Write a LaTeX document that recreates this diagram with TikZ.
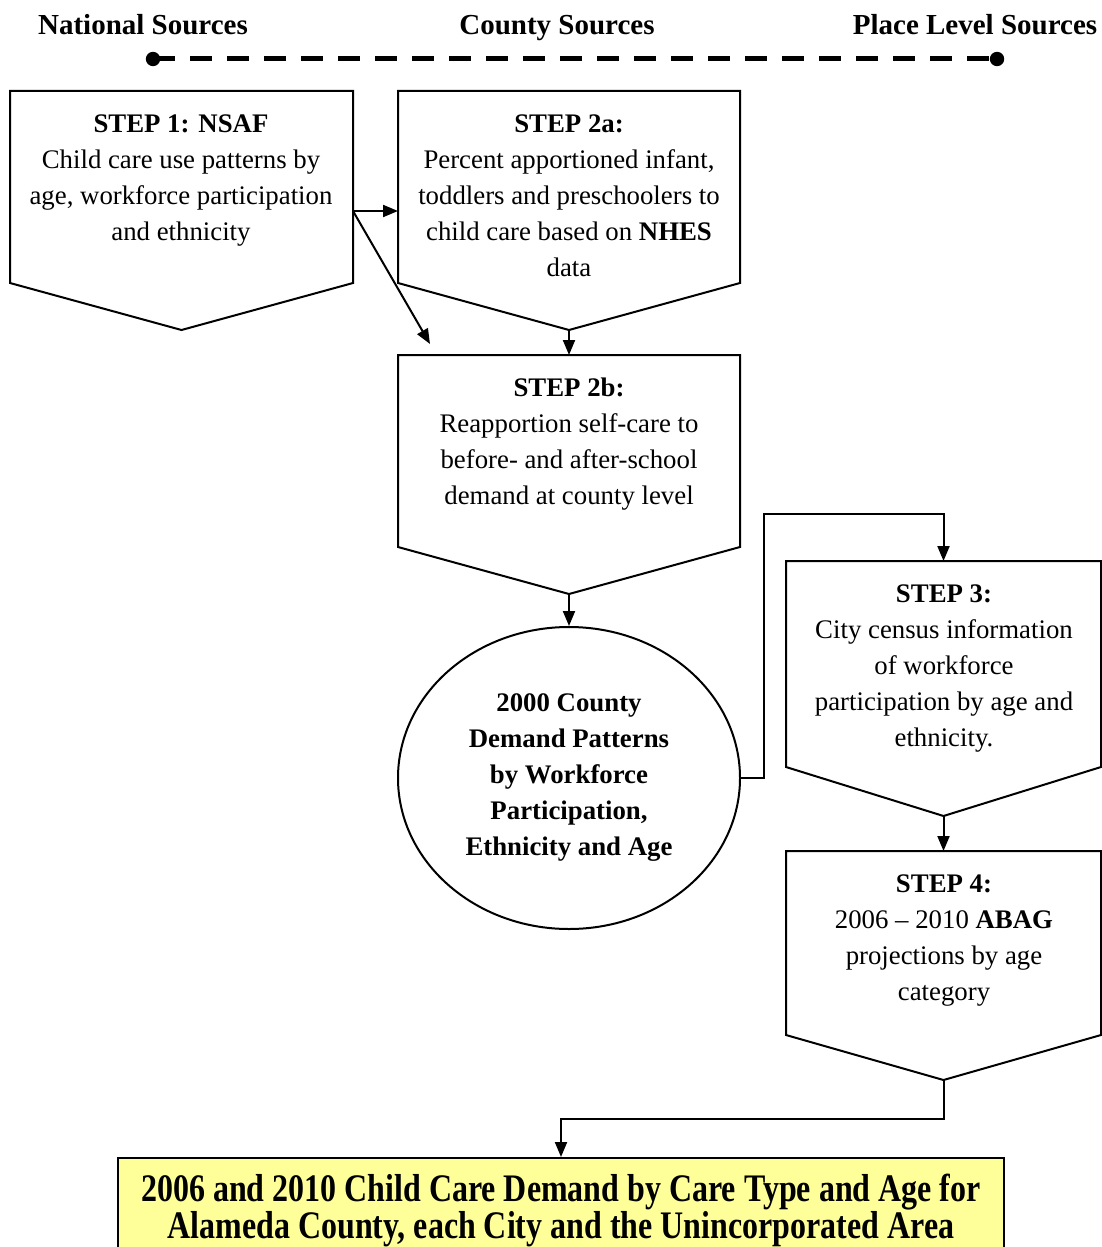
\documentclass[tikz,border=0pt]{standalone}
\usepackage{fontspec}
\setmainfont{Liberation Serif}
\newfontfamily\condfont[FakeStretch=0.82]{Liberation Serif}
\usetikzlibrary{arrows.meta,shapes.geometric,calc}
\definecolor{resultfill}{RGB}{255,255,153}

% pentagon box pointing down: name, left, right, top, side bottom, tip
\newcommand{\stepshape}[6]{%
  \coordinate (#1-nw) at (#2,#4);
  \coordinate (#1-ne) at (#3,#4);
  \coordinate (#1-se) at (#3,#5);
  \coordinate (#1-sw) at (#2,#5);
  \coordinate (#1-tip) at ({(#2+#3)/2},#6);
  \coordinate (#1-top) at ({(#2+#3)/2},#4);
  \draw[step box] (#1-nw) -- (#1-ne) -- (#1-se) -- (#1-tip) -- (#1-sw) -- cycle;}

\begin{document}
\begin{tikzpicture}[
				x=0.5pt,y=-0.5pt,
				every node/.style={font=\fontsize{13.4}{18}\selectfont},
				>={Triangle[length=7.5pt,width=6pt]}]
			\tikzstyle{flow}=[->,line width=1pt]
			\tikzstyle{step box}=[draw,line width=1pt]
			\tikzstyle{step text}=[align=center,inner sep=0pt]
			\tikzstyle{head}=[anchor=base,font=\bfseries\fontsize{14.5}{16}\selectfont]
			\useasboundingbox (0,0) rectangle (1102,1247);

			% sources line
			\node[head] (national) at (143,35) {National Sources};
			\node[head] (county) at (557,35) {County Sources};
			\node[head] (place) at (975,35) {Place Level Sources};
			\coordinate (lineL) at (153,59);
			\coordinate (lineR) at (997,59);
			\draw[line width=2.5pt,dash pattern=on 11pt off 7.5pt] (lineL) -- (lineR);
			\fill (lineL) circle (3.6pt);
			\fill (lineR) circle (3.6pt);

			% steps
			\stepshape{s1}{10}{353}{91}{283}{330}
			\node[step text] (s1text) at (181,181)
				{\textbf{STEP 1: NSAF}\\Child care use patterns by\\age, workforce participation\\and ethnicity};
			\stepshape{s2a}{398}{740}{91}{283}{330}
			\node[step text] (s2atext) at (569,196)
				{\textbf{STEP 2a:}\\Percent apportioned infant,\\toddlers and preschoolers to\\child care based on \textbf{NHES}\\data};
			\stepshape{s2b}{398}{740}{355}{547}{594}
			\node[step text] (s2btext) at (569,444)
				{\textbf{STEP 2b:}\\Reapportion self-care to\\before- and after-school\\demand at county level};
			\stepshape{s3}{786}{1101}{561}{767}{816}
			\node[step text] (s3text) at (944,669)
				{\textbf{STEP 3:}\\City census information\\of workforce\\participation by age and\\ethnicity.};
			\stepshape{s4}{786}{1101}{851}{1035}{1080}
			\node[step text] (s4text) at (944,941)
				{\textbf{STEP 4:}\\2006 -- 2010 \textbf{ABAG}\\projections by age\\category};

			% county patterns
			\node[draw,ellipse,line width=1pt,inner sep=0pt,minimum width=171pt,minimum height=151pt,
				align=center,font=\bfseries\fontsize{13.4}{18}\selectfont] (demand) at (569,778)
				{2000 County\\Demand Patterns\\by Workforce\\Participation,\\Ethnicity and Age};

			% result
			\node[draw,line width=1pt,fill=resultfill,anchor=north,minimum width=443pt,minimum height=52pt,
				align=center,inner sep=0pt,font=\condfont\bfseries\fontsize{19.5}{18.5}\selectfont] (result) at (561,1157)
				{2006 and 2010 Child Care Demand by Care Type and Age for\\Alameda County, each City and the Unincorporated Area};

			% connectors
			\coordinate (s1out) at (353,211);
			\coordinate (s2ain) at (398,211);
			\coordinate (diagend) at (430,344);
			\draw[flow] (s1out) -- (s2ain);
			\draw[flow] (s1out) -- (diagend);
			\draw[flow] (s2a-tip) -- (s2b-top);
			\draw[flow] (s2b-tip) -- (demand.north);
			\draw[flow] (demand.east) -- ++(23,0) |- ($(s3-top)+(0,-47)$) -- (s3-top);
			\draw[flow] (s3-tip) -- (s4-top);
			\draw[flow] (s4-tip) -- ++(0,39) -| (result.north);
		\end{tikzpicture}
\end{document}
